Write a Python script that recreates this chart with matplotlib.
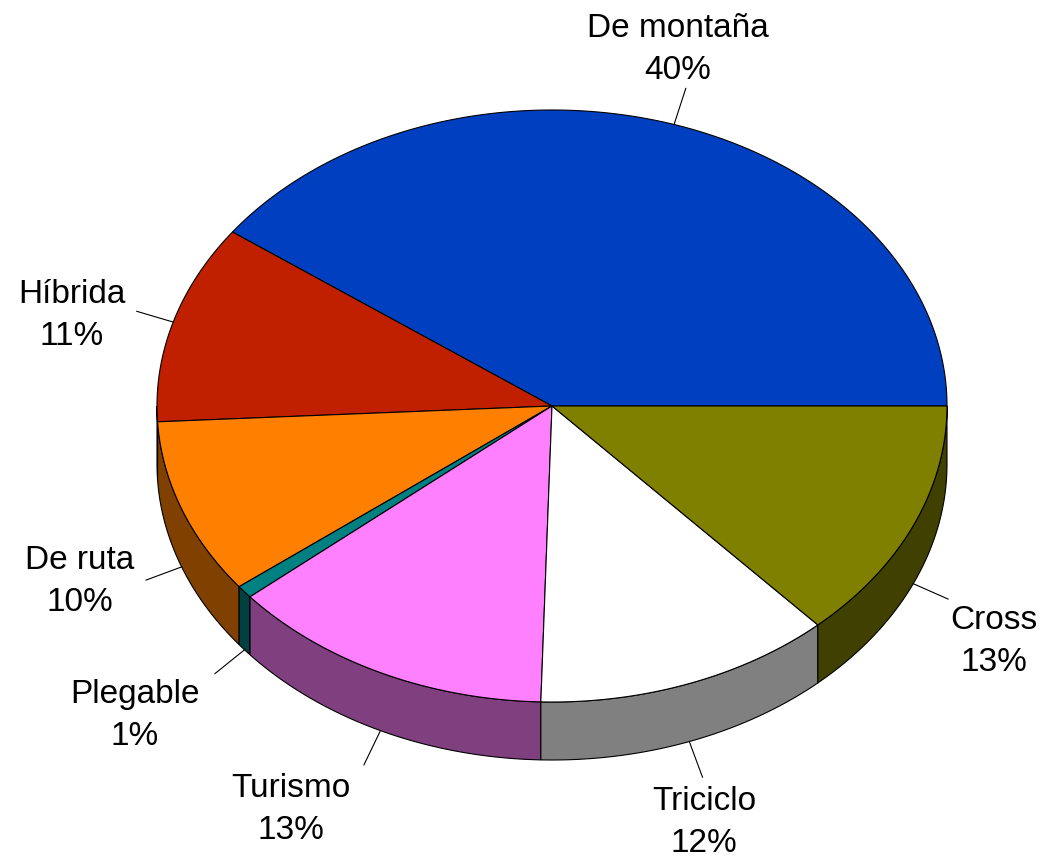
import numpy as np
import matplotlib
matplotlib.use('Agg')
import matplotlib.pyplot as plt
from matplotlib.patches import Polygon
from matplotlib.colors import to_rgb

# Data
categories = ['De montaña', 'Híbrida', 'De ruta', 'Plegable', 'Turismo', 'Triciclo', 'Cross']
values = [40.0, 10.85, 9.6, 0.7, 13.4, 12.2, 13.25]
colors = ['#0040C0', '#C02000', '#FF8000', '#008080', '#FF80FF', '#FFFFFF', '#808000']

# Pie geometry (pixels)
cx, cy = 552, 406
rx, ry = 395, 296
depth = 58
leader_len = 38

# label placement: (name centre x, name baseline y)
label_pos = [(678, 37), (72, 303), (80, 569), (135, 703), (291, 797), (704, 810), (994, 629)]
line_gap = 42


def pt(t, dz=0.0):
    return cx + rx * np.cos(t), cy - ry * np.sin(t) + dz


fig = plt.figure(figsize=(10.46, 8.58), dpi=100)
ax = fig.add_axes([0, 0, 1, 1])
ax.set_xlim(0, 1046)
ax.set_ylim(858, 0)
ax.axis('off')

total = sum(values)
bounds = np.concatenate([[0], np.cumsum(values)]) / total * 2 * np.pi

for i, name in enumerate(categories):
    a, b = bounds[i], bounds[i + 1]
    top_col = colors[i]
    side_col = tuple(c * 0.5 for c in to_rgb(top_col))

    # outer wall, only the front half is visible
    lo, hi = max(a, np.pi), min(b, 2 * np.pi)
    if hi > lo:
        t = np.linspace(lo, hi, 120)
        x, y = pt(t)
        xs = np.concatenate([x, x[::-1]])
        ys = np.concatenate([y, (y + depth)[::-1]])
        ax.add_patch(Polygon(np.column_stack([xs, ys]), closed=True, facecolor=side_col,
                             edgecolor='black', linewidth=0.8, zorder=1))

    # top face
    t = np.linspace(a, b, 300)
    x, y = pt(t)
    ax.add_patch(Polygon(np.column_stack([np.r_[cx, x], np.r_[cy, y]]), closed=True,
                         facecolor=top_col, edgecolor='black', linewidth=0.8, zorder=2))

    # leader line from slice edge outwards
    mid = (a + b) / 2
    dz = depth if np.sin(mid) < 0 else 0
    ax0, ay0 = pt(mid, dz)
    ex, ey = ax0 + leader_len * np.cos(mid), ay0 - leader_len * np.sin(mid)
    ax.plot([ax0, ex], [ay0, ey], color='black', linewidth=0.8, zorder=3)

    # label
    lx, ly = label_pos[i]
    pct = '%d%%' % round(values[i] / total * 100)
    ax.text(lx, ly, name, ha='center', va='baseline', fontsize=24, family='Liberation Sans')
    ax.text(lx, ly + line_gap, pct, ha='center', va='baseline', fontsize=24, family='Liberation Sans')

fig.savefig('out.png', dpi=100)
